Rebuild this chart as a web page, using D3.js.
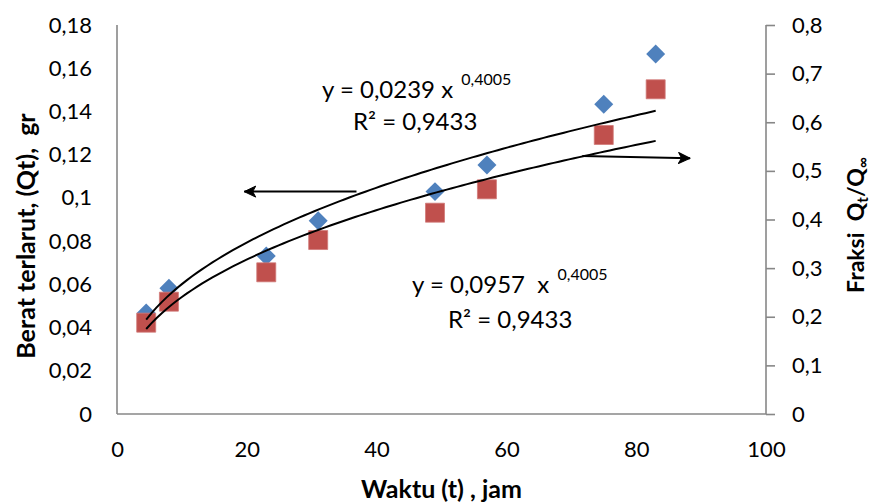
<!DOCTYPE html>
<html>
<head>
<meta charset="utf-8">
<script src="https://cdn.jsdelivr.net/npm/d3@7"></script>
<style>
  body { margin: 0; background: #fff; }
  svg { font-family: Lato, "Open Sans", sans-serif; }
  text { white-space: pre; }
</style>
</head>
<body>
<div id="chart"></div>
<script>
// waktu (jam) and the two measured series
const waktu = [4.5, 8, 23, 31, 49, 57, 75, 83]
const beratQt = [0.0467, 0.0582, 0.0731, 0.0894, 0.1029, 0.1152, 0.1433, 0.1666]   // left axis
const fraksi = [0.1878, 0.2310, 0.2914, 0.3578, 0.4140, 0.4621, 0.5738, 0.6678]    // right axis

// power trend lines as reported on the chart
const trendBerat = { a: 0.0239, b: 0.4005 }
const trendFraksi = { a: 0.0957, b: 0.4005 }

const xTicks = [0, 20, 40, 60, 80, 100]
const leftTicks = [0, 0.02, 0.04, 0.06, 0.08, 0.1, 0.12, 0.14, 0.16, 0.18]
const rightTicks = [0, 0.1, 0.2, 0.3, 0.4, 0.5, 0.6, 0.7, 0.8]

// arrows pointing to the axis each curve belongs to (data coords)
const arrowLeft = { from: [36.9, 0.1029], to: [19.6, 0.1029] }      // on left scale
const arrowRight = { from: [71.7, 0.5306], to: [88.3, 0.5259] }     // on right scale

const W = 872, H = 502
const x0 = 117, x1 = 766, yTop = 25, yBot = 414

const svg = d3.select('#chart').append('svg')
  .attr('width', W).attr('height', H)

const x = d3.scaleLinear().domain([0, 100]).range([x0, x1])
const yL = d3.scaleLinear().domain([0, 0.18]).range([yBot, yTop])
const yR = d3.scaleLinear().domain([0, 0.8]).range([yBot, yTop])

const comma = d => String(+d.toFixed(2)).replace('.', ',')

// axes
const gx = svg.append('g').attr('transform', `translate(0,${yBot})`)
  .call(d3.axisBottom(x).tickValues(xTicks).tickSize(0).tickPadding(27).tickFormat(d => d))
const gl = svg.append('g').attr('transform', `translate(${x0},0)`)
  .call(d3.axisLeft(yL).tickValues(leftTicks).tickSize(0).tickPadding(25).tickFormat(comma))
const gr = svg.append('g').attr('transform', `translate(${x1},0)`)
  .call(d3.axisRight(yR).tickValues(rightTicks).tickSize(9).tickPadding(17).tickFormat(comma))

;[gx, gl, gr].forEach(g => {
  g.select('.domain').attr('stroke', '#878787').attr('stroke-width', 1.6)
  g.selectAll('.tick line').attr('stroke', '#878787').attr('stroke-width', 1.6)
  g.selectAll('.tick text').attr('font-size', 22).attr('fill', '#000')
    .attr('font-family', 'Lato, sans-serif')
})
gr.select('.domain').attr('d', `M0,${yTop}V${yBot}`)
gx.select('.domain').attr('d', `M0,0H${x1 - x0}`).attr('transform', `translate(${x0},0)`)
gl.select('.domain').attr('d', `M0,${yTop}V${yBot}`)

// markers
const diamond = d3.symbol().type(d3.symbolSquare).size(180)
svg.append('g').selectAll('path')
  .data(waktu.map((t, i) => [t, beratQt[i]]))
  .join('path')
  .attr('d', diamond)
  .attr('transform', d => `translate(${x(d[0])},${yL(d[1])}) rotate(45)`)
  .attr('fill', '#4F81BD')

const square = d3.symbol().type(d3.symbolSquare).size(361)
svg.append('g').selectAll('path')
  .data(waktu.map((t, i) => [t, fraksi[i]]))
  .join('path')
  .attr('d', square)
  .attr('transform', d => `translate(${x(d[0])},${yR(d[1])})`)
  .attr('fill', '#C0504D')
  .attr('stroke', '#D07A78').attr('stroke-width', 0.8)

// trend lines
const tSamples = d3.range(0, 101).map(i => waktu[0] + (waktu[waktu.length - 1] - waktu[0]) * i / 100)
const line = d3.line().curve(d3.curveLinear)
svg.append('path')
  .attr('d', line(tSamples.map(t => [x(t), yL(trendBerat.a * Math.pow(t, trendBerat.b))])))
  .attr('fill', 'none').attr('stroke', '#000').attr('stroke-width', 2)
svg.append('path')
  .attr('d', line(tSamples.map(t => [x(t), yR(trendFraksi.a * Math.pow(t, trendFraksi.b))])))
  .attr('fill', 'none').attr('stroke', '#000').attr('stroke-width', 2)

// arrows
svg.append('defs').append('marker')
  .attr('id', 'head').attr('viewBox', '0 0 14 14').attr('refX', 12.5).attr('refY', 7)
  .attr('markerWidth', 14).attr('markerHeight', 14).attr('markerUnits', 'userSpaceOnUse')
  .attr('orient', 'auto')
  .append('path').attr('d', 'M1,1.5 L12.5,7 L1,12.5 L4,7 Z').attr('fill', '#000')
  .attr('stroke', '#000').attr('stroke-width', 1).attr('stroke-linejoin', 'round')

svg.append('line')
  .attr('x1', x(arrowLeft.from[0])).attr('y1', yL(arrowLeft.from[1]))
  .attr('x2', x(arrowLeft.to[0])).attr('y2', yL(arrowLeft.to[1]))
  .attr('stroke', '#000').attr('stroke-width', 2).attr('marker-end', 'url(#head)')
svg.append('line')
  .attr('x1', x(arrowRight.from[0])).attr('y1', yR(arrowRight.from[1]))
  .attr('x2', x(arrowRight.to[0])).attr('y2', yR(arrowRight.to[1]))
  .attr('stroke', '#000').attr('stroke-width', 2).attr('marker-end', 'url(#head)')

// equation labels
function equation(xs, yb, coef, xs2, yb2) {
  const t = svg.append('text').attr('x', xs).attr('y', yb).attr('font-size', 24)
  t.append('tspan').text(coef)
  t.append('tspan').attr('font-size', 16).attr('dy', -13).text('  0,4005')
  svg.append('text').attr('x', xs2).attr('y', yb2).attr('font-size', 24).text('R² = 0,9433')
}
equation(322, 98, 'y = 0,0239 x', 353, 130)
equation(412, 293, 'y = 0,0957  x', 448, 328)

// axis titles
svg.append('text').attr('x', x(50)).attr('y', 498).attr('text-anchor', 'middle')
  .attr('font-size', 25).attr('font-weight', 'bold').text('Waktu (t) , jam')

svg.append('text').attr('transform', 'translate(35,236) rotate(-90)').attr('text-anchor', 'middle')
  .attr('font-size', 25).attr('font-weight', 'bold').text('Berat terlarut, (Qt),  gr')

const rt = svg.append('text').attr('transform', 'translate(864,225) rotate(-90)')
  .attr('text-anchor', 'middle').attr('font-size', 23).attr('font-weight', 'bold')
rt.append('tspan').text('Fraksi  Q')
rt.append('tspan').attr('font-size', 15).attr('dy', 4).text('t')
rt.append('tspan').attr('dy', -4).text('/Q')
rt.append('tspan').attr('font-size', 15).attr('dy', 4).text('∞')
</script>
</body>
</html>
